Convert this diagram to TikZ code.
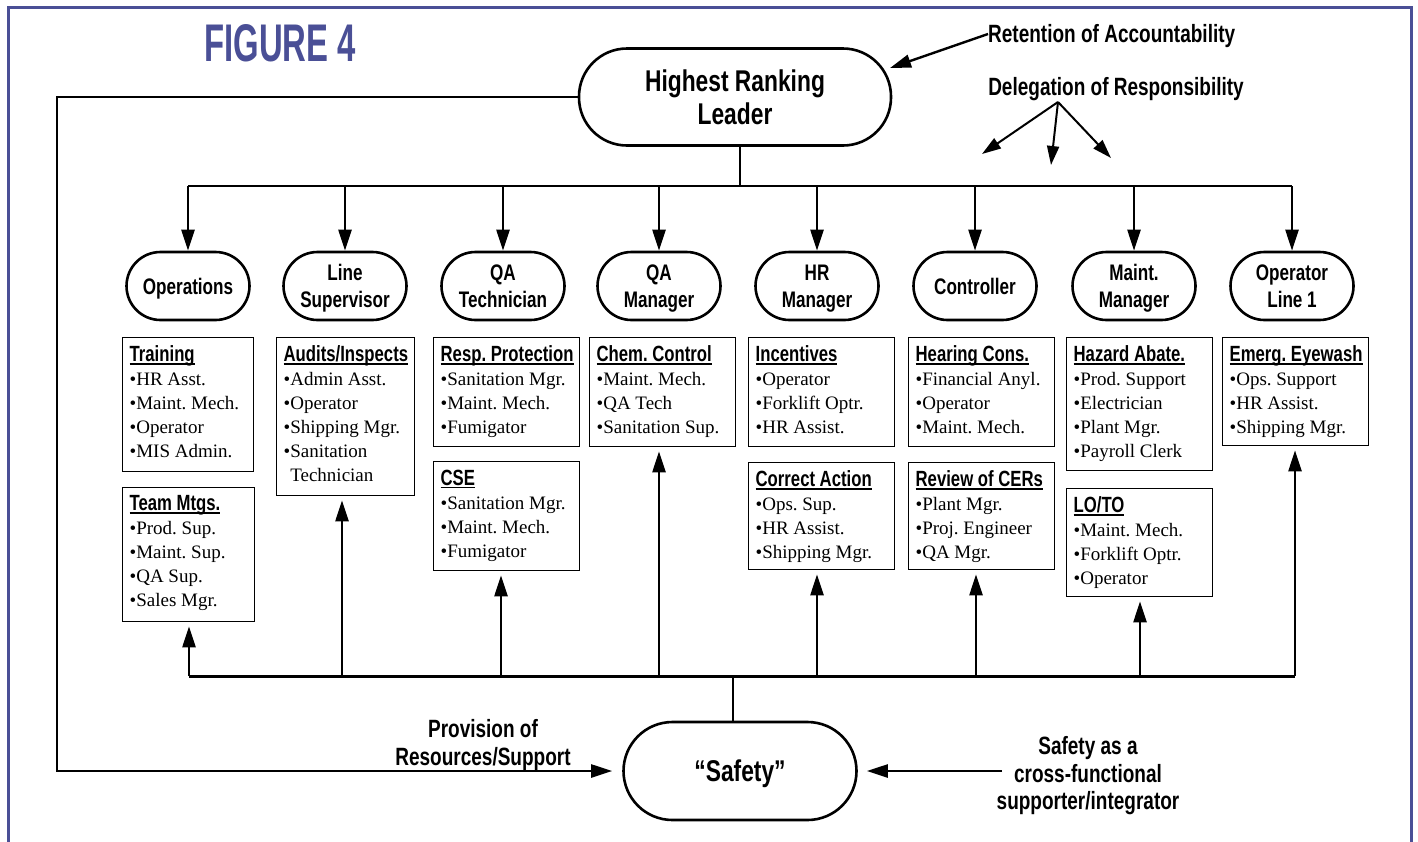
\documentclass[tikz,border=0pt]{standalone}
\usepackage{fontspec}
\setmainfont{Liberation Serif}
\newfontfamily\cnd[FakeStretch=0.76]{Liberation Sans}
\newfontfamily\cndfig[FakeStretch=0.62]{Liberation Sans}
\usetikzlibrary{arrows.meta}
\definecolor{figblue}{RGB}{74,79,150}
\newcommand\ulx[1]{\leavevmode\setbox0\hbox{#1}\rlap{\rule[-3pt]{\wd0}{1.3pt}}\box0}
\newcommand\itm[1]{\leavevmode\mbox{\textbullet#1}\par}
\newcommand\cnt[1]{\leavevmode\mbox{\phantom{\textbullet}#1}\par}
\newcommand\bxt[4]{\parbox[c][#2pt][t]{#1pt}{\raggedright\leftskip=7pt\parindent=0pt\frenchspacing\vspace*{8pt}{\fontsize{22}{24}\selectfont\cnd\bfseries\ulx{#3}\par}{\fontsize{19}{24}\selectfont #4}}}
\begin{document}
\begin{tikzpicture}[x=1pt,y=-1pt,
  lbl/.style={align=center,inner sep=0pt,font=\fontsize{25}{27.5}\selectfont\cnd\bfseries},
  child/.style={draw,line width=2.6pt,rounded corners=34pt,minimum width=123pt,minimum height=68pt,inner sep=0pt,align=center,text depth=0pt,font=\fontsize{22.5}{27}\selectfont\cnd\bfseries},
  lead/.style={draw,line width=2.6pt,rounded corners=48pt,minimum width=312pt,minimum height=97pt,inner sep=0pt,align=center,text depth=0pt,font=\fontsize{30}{33}\selectfont\cnd\bfseries},
  safe/.style={draw,line width=2.6pt,rounded corners=49pt,minimum width=233pt,minimum height=98pt,inner sep=0pt,align=center,text depth=0pt,font=\fontsize{30}{33}\selectfont\cnd\bfseries},
  bx/.style={draw,line width=1.3pt,inner sep=0pt,anchor=north west},
  ln/.style={line width=2.6pt},
  arr/.style={line width=2.4pt,-{Triangle[length=21pt,width=13pt]}},
  darr/.style={line width=2pt,-{Triangle[length=19pt,width=12pt]}}]
\useasboundingbox (0,0) rectangle (1418,841);
\fill[white] (0,0) rectangle (1418,841);
\draw[figblue,line width=3pt] (8,860) -- (8,7) -- (1411,7) -- (1411,860);
\node[inner sep=0pt,text=figblue,font=\fontsize{53}{53}\selectfont\cndfig\bfseries] (fig) at (280,43) {FIGURE 4};

% main nodes
\node[lead] (leader) at (735,97) {Highest Ranking\\Leader};
\node[safe] (safety) at (740,771) {“Safety”};

\node[child] (c1) at (188,286) {Operations};
\node[child] (c2) at (345,286) {Line\\Supervisor};
\node[child] (c3) at (503,286) {QA\\Technician};
\node[child] (c4) at (659,286) {QA\\Manager};
\node[child] (c5) at (817,286) {HR\\Manager};
\node[child] (c6) at (975,286) {Controller};
\node[child] (c7) at (1134,286) {Maint.\\Manager};
\node[child] (c8) at (1292,286) {Operator\\Line 1};

% boxes
\node[bx] (b1) at (122,337) {\bxt{131}{134}{Training}{\itm{HR Asst.}\itm{Maint. Mech.}\itm{Operator}\itm{MIS Admin.}}};
\node[bx] (b2) at (122,487) {\bxt{132}{134}{Team Mtgs.}{\itm{Prod. Sup.}\itm{Maint. Sup.}\itm{QA Sup.}\itm{Sales Mgr.}}};
\node[bx] (b3) at (276,337) {\bxt{138}{158}{Audits/Inspects}{\itm{Admin Asst.}\itm{Operator}\itm{Shipping Mgr.}\itm{Sanitation}\cnt{Technician}}};
\node[bx] (b4) at (433,337) {\bxt{146}{109}{Resp. Protection}{\itm{Sanitation Mgr.}\itm{Maint. Mech.}\itm{Fumigator}}};
\node[bx] (b5) at (433,461) {\bxt{146}{109}{CSE}{\itm{Sanitation Mgr.}\itm{Maint. Mech.}\itm{Fumigator}}};
\node[bx] (b6) at (589,337) {\bxt{146}{109}{Chem. Control}{\itm{Maint. Mech.}\itm{QA Tech}\itm{Sanitation Sup.}}};
\node[bx] (b7) at (748,337) {\bxt{146}{109}{Incentives}{\itm{Operator}\itm{Forklift Optr.}\itm{HR Assist.}}};
\node[bx] (b8) at (748,462) {\bxt{146}{107}{Correct Action}{\itm{Ops. Sup.}\itm{HR Assist.}\itm{Shipping Mgr.}}};
\node[bx] (b9) at (908,337) {\bxt{146}{109}{Hearing Cons.}{\itm{Financial Anyl.}\itm{Operator}\itm{Maint. Mech.}}};
\node[bx] (b10) at (908,462) {\bxt{146}{107}{Review of CERs}{\itm{Plant Mgr.}\itm{Proj. Engineer}\itm{QA Mgr.}}};
\node[bx] (b11) at (1066,337) {\bxt{146}{133}{Hazard Abate.}{\itm{Prod. Support}\itm{Electrician}\itm{Plant Mgr.}\itm{Payroll Clerk}}};
\node[bx] (b12) at (1066,488) {\bxt{146}{108}{LO/TO}{\itm{Maint. Mech.}\itm{Forklift Optr.}\itm{Operator}}};
\node[bx] (b13) at (1222,337) {\bxt{146}{108}{Emerg. Eyewash}{\itm{Ops. Support}\itm{HR Assist.}\itm{Shipping Mgr.}}};

% labels
\node[lbl,anchor=west] (ret) at (988,36) {Retention of Accountability};
\node[lbl] (del) at (1116,89) {Delegation of Responsibility};
\node[lbl] (prov) at (483,745) {Provision of\\Resources/Support};
\node[lbl] (sx) at (1088,776) {Safety as a\\cross-functional\\supporter/integrator};

% top distribution
\coordinate (top) at (740,186);
\draw[ln] ([xshift=5pt]leader.south) -- (top);
\draw[ln] (c1.north |- top) -- (c8.north |- top);
\foreach \c in {c1,c2,c3,c4,c5,c6,c7,c8}
  \draw[arr] (\c.north |- top) -- (\c.north);

% bottom distribution
\coordinate (bus) at (733,676);
\coordinate (u1) at (189,676);
\coordinate (u2) at (342,676);
\coordinate (u3) at (501,676);
\coordinate (u4) at (659,676);
\coordinate (u5) at (817,676);
\coordinate (u6) at (976,676);
\coordinate (u7) at (1140,676);
\coordinate (u8) at (1295,676);
\draw[ln,line width=3pt] (u1) -- (u8);
\draw[ln] (bus) -- (bus |- safety.north);
\draw[arr,shorten >=4pt] (u1) -- (u1 |- b2.south);
\draw[arr,shorten >=4pt] (u2) -- (u2 |- b3.south);
\draw[arr,shorten >=4pt] (u3) -- (u3 |- b5.south);
\draw[arr,shorten >=4pt] (u4) -- (u4 |- b6.south);
\draw[arr,shorten >=4pt] (u5) -- (u5 |- b8.south);
\draw[arr,shorten >=4pt] (u6) -- (u6 |- b10.south);
\draw[arr,shorten >=4pt] (u7) -- (u7 |- b12.south);
\draw[arr,shorten >=4pt] (u8) -- (u8 |- b13.south);

% loop from leader to safety
\draw[arr,shorten >=10pt] (leader.west) -- (57,97) |- (safety.west);
% right arrow
\coordinate (rs) at (1002,771);
\draw[arr,shorten >=9pt] (rs) -- (safety.east);

% retention arrow
\coordinate (r1) at (890,68);
\draw[arr] ([yshift=2pt]ret.west) -- (r1);
% delegation arrows
\coordinate (dg) at (1058,102);
\coordinate (d1) at (982,154);
\coordinate (d2) at (1051,165);
\coordinate (d3) at (1111,158);
\draw[darr] (dg) -- (d1);
\draw[darr] (dg) -- (d2);
\draw[darr] (dg) -- (d3);
\end{tikzpicture}
\end{document}
